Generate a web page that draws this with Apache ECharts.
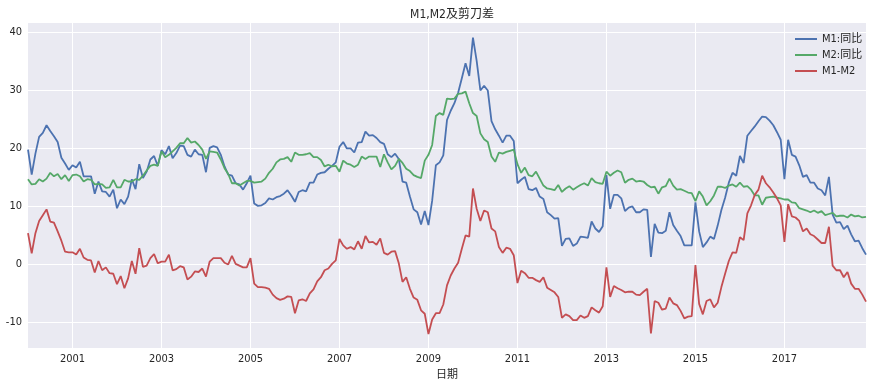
<!DOCTYPE html>
<html>
<head>
<meta charset="utf-8">
<script src="https://cdn.jsdelivr.net/npm/echarts@6/dist/echarts.min.js"></script>
<style>
html,body{margin:0;padding:0;background:#fff;}
#chart{width:872px;height:389px;}
</style>
</head>
<body>
<div id="chart"></div>
<script>
// Monthly data, 2000-01 .. 2018-11
const startYear = 2000;
const monthCount = 227;
const tickYears = [2001, 2003, 2005, 2007, 2009, 2011, 2013, 2015, 2017];

const m1 = [
  19.7, 15.4, 19.0, 21.9, 22.6, 23.9, 22.9, 22.0, 21.0, 18.3, 17.3, 16.2,
  17.0, 16.6, 17.6, 15.1, 15.1, 15.1, 12.1, 14.2, 12.5, 12.4, 11.6, 12.8,
  9.6, 11.1, 10.3, 11.6, 14.6, 12.9, 17.2, 14.8, 15.9, 18.0, 18.6, 16.9,
  19.6, 18.9, 20.3, 18.2, 19.1, 20.4, 20.3, 18.8, 18.5, 19.7, 18.9, 18.8,
  15.8, 20.0, 20.3, 20.1, 18.8, 16.8, 15.4, 15.2, 13.9, 13.7, 12.8, 13.9,
  15.2, 10.4, 10.0, 10.1, 10.5, 11.3, 11.1, 11.5, 11.7, 12.1, 12.7, 11.8,
  10.7, 12.4, 12.7, 12.5, 14.0, 14.0, 15.4, 15.7, 15.8, 16.4, 16.9, 17.5,
  20.2, 21.0, 19.9, 19.9, 19.2, 20.9, 21.0, 22.8, 22.1, 22.2, 21.7, 21.0,
  20.7, 18.9, 18.4, 19.0, 18.1, 14.2, 14.0, 11.6, 9.4, 8.9, 6.8, 9.1,
  6.7, 10.9, 17.0, 17.5, 18.7, 24.8, 26.4, 27.7, 29.5, 32.0, 34.6, 32.4,
  39.0, 35.0, 29.9, 30.7, 29.9, 24.6, 23.2, 22.1, 20.9, 22.1, 22.1, 21.2,
  13.9, 14.5, 15.0, 12.9, 12.7, 13.1, 11.6, 11.2, 8.9, 8.4, 7.8, 7.9,
  3.1, 4.3, 4.4, 3.1, 3.5, 4.7, 4.6, 4.5, 7.3, 6.1, 5.5, 6.5,
  15.3, 9.5, 11.9, 11.9, 11.3, 9.1, 9.7, 9.9, 8.9, 8.9, 9.4, 9.3,
  1.2, 6.9, 5.4, 5.3, 5.7, 8.9, 6.7, 5.7, 4.8, 3.2, 3.2, 3.2,
  10.6, 5.6, 2.9, 3.7, 4.7, 4.3, 6.6, 9.3, 11.4, 14.0, 15.7, 15.2,
  18.6, 17.4, 22.1, 22.9, 23.7, 24.6, 25.4, 25.3, 24.7, 23.9, 22.7, 21.4,
  14.6, 21.4, 18.8, 18.5, 17.0, 15.0, 15.3, 14.0, 14.0, 13.0, 12.7, 11.8,
  15.0, 8.5, 7.1, 7.2, 6.0, 6.6, 5.1, 3.9, 4.0, 2.7, 1.6
];

const m2 = [
  14.6, 13.7, 13.8, 14.6, 14.2, 14.7, 15.7, 15.1, 15.5, 14.6, 15.3, 14.3,
  15.3, 15.4, 15.1, 14.2, 14.6, 14.5, 13.7, 13.8, 13.7, 13.1, 13.2, 14.5,
  13.2, 13.2, 14.5, 14.2, 14.2, 14.6, 14.5, 15.2, 16.1, 16.9, 17.1, 16.9,
  19.4, 18.4, 18.8, 19.4, 20.0, 20.8, 20.8, 21.7, 20.9, 21.1, 20.5, 19.7,
  18.1, 19.4, 19.3, 19.2, 18.0, 16.5, 15.5, 13.9, 13.9, 13.5, 13.9, 14.3,
  14.3, 14.0, 14.1, 14.2, 14.7, 15.7, 16.4, 17.5, 18.0, 18.1, 18.4, 17.6,
  19.2, 18.8, 18.8, 18.9, 19.1, 18.4, 18.4, 17.9, 16.8, 17.1, 16.8, 16.9,
  15.9, 17.8, 17.3, 17.1, 16.7, 17.1, 18.5, 18.1, 18.5, 18.5, 18.5, 16.7,
  18.9, 17.5, 16.3, 16.9, 18.1, 17.4, 16.4, 16.0, 15.3, 15.0, 14.8, 17.8,
  18.8, 20.5, 25.5, 26.0, 25.7, 28.5, 28.4, 28.5, 29.3, 29.4, 29.7, 27.7,
  26.0, 25.5, 22.5, 21.5, 21.0, 18.5, 17.6, 19.2, 19.0, 19.3, 19.5, 19.7,
  17.2, 15.7, 16.6, 15.3, 15.1, 15.9, 14.7, 13.5, 13.0, 12.9, 12.7, 13.6,
  12.4, 13.0, 13.4, 12.8, 13.2, 13.6, 13.9, 13.5, 14.8, 14.1, 13.9, 13.8,
  15.9, 15.2, 15.7, 16.1, 15.8, 14.0, 14.5, 14.7, 14.2, 14.3, 14.2, 13.6,
  13.2, 13.3, 12.1, 13.2, 13.4, 14.7, 13.5, 12.8, 12.9, 12.6, 12.3, 12.2,
  10.8, 12.5, 11.6, 10.1, 10.8, 11.8, 13.3, 13.3, 13.1, 13.5, 13.7, 13.3,
  14.0, 13.3, 13.4, 12.8, 11.8, 11.8, 10.2, 11.4, 11.5, 11.6, 11.4, 11.3,
  11.1, 11.1, 10.6, 10.5, 9.6, 9.4, 9.2, 8.9, 9.2, 8.8, 9.1, 8.4,
  8.6, 8.8, 8.2, 8.3, 8.3, 8.0, 8.5, 8.2, 8.3, 8.0, 8.1
];

const gap = [
  5.3, 1.8, 5.3, 7.4, 8.4, 9.4, 7.3, 7.1, 5.6, 4.0, 2.1, 2.0,
  2.0, 1.6, 2.6, 1.1, 0.7, 0.6, -1.5, 0.5, -1.1, -0.6, -1.6, -1.7,
  -3.5, -2.1, -4.2, -2.5, 0.5, -1.7, 2.7, -0.5, -0.3, 1.0, 1.7, 0.1,
  0.4, 0.4, 1.6, -1.1, -0.9, -0.4, -0.6, -2.7, -2.2, -1.3, -1.4, -0.8,
  -2.2, 0.4, 1.0, 1.0, 1.0, 0.2, -0.1, 1.4, 0.0, -0.3, -0.6, -0.6,
  1.0, -3.4, -4.0, -4.0, -4.1, -4.3, -5.3, -5.9, -6.2, -6.0, -5.6, -5.7,
  -8.5, -6.3, -6.1, -6.4, -5.1, -4.4, -3.0, -2.3, -1.1, -0.8, 0.0, 0.6,
  4.3, 3.2, 2.6, 2.9, 2.5, 3.9, 2.6, 4.8, 3.7, 3.8, 3.3, 4.4,
  1.9, 1.6, 2.1, 2.2, 0.1, -3.1, -2.3, -4.3, -5.8, -6.2, -8.0, -8.6,
  -12.1, -9.6, -8.5, -8.5, -7.0, -3.7, -2.0, -0.8, 0.2, 2.6, 4.9, 4.7,
  13.0, 9.5, 7.4, 9.2, 8.9, 6.1, 5.6, 2.9, 1.9, 2.8, 2.6, 1.5,
  -3.3, -1.2, -1.6, -2.4, -2.4, -2.8, -3.1, -2.3, -4.1, -4.5, -4.9, -5.7,
  -9.3, -8.7, -9.0, -9.7, -9.7, -8.9, -9.3, -9.0, -7.5, -8.0, -8.4, -7.3,
  -0.6, -5.7, -3.8, -4.2, -4.5, -4.9, -4.8, -4.8, -5.3, -5.4, -4.8, -4.3,
  -12.0, -6.4, -6.7, -7.9, -7.7, -5.8, -6.8, -7.1, -8.1, -9.4, -9.1, -9.0,
  -0.2, -6.9, -8.7, -6.4, -6.1, -7.5, -6.7, -4.0, -1.7, 0.5, 2.0, 1.9,
  4.6, 4.1, 8.7, 10.1, 11.9, 12.8, 15.2, 13.9, 13.2, 12.3, 11.3, 10.1,
  3.8, 10.3, 8.2, 8.0, 7.4, 5.6, 6.1, 5.1, 4.8, 4.2, 3.6, 3.6,
  6.4, -0.3, -1.1, -1.1, -2.3, -1.4, -3.4, -4.3, -4.3, -5.3, -6.5
];

const seriesNames = ['M1:同比', 'M2:同比', 'M1-M2'];
const titleText = 'M1,M2及剪刀差';
const xName = '日期';

const months = [];
for (let i = 0; i < monthCount; i++) {
  const y = startYear + Math.floor(i / 12);
  const m = (i % 12) + 1;
  months.push(y + '-' + (m < 10 ? '0' + m : m));
}
function isTick(idx, val) {
  return val.slice(5) === '01' && tickYears.indexOf(+val.slice(0, 4)) >= 0;
}

const FONT = '"Liberation Sans Narrow", "DejaVu Sans Condensed", "Noto Sans CJK SC", sans-serif';
const TXT = '#262626';

const chart = echarts.init(document.getElementById('chart'), null, {renderer: 'canvas'});
chart.setOption({
  animation: false,
  backgroundColor: '#ffffff',
  title: {
    text: titleText,
    left: 447, top: 4, textAlign: 'center',
    textStyle: {fontFamily: FONT, fontSize: 12, fontWeight: 'normal', color: TXT}
  },
  legend: {
    orient: 'vertical',
    left: 790, top: 27,
    icon: 'rect',
    itemWidth: 22, itemHeight: 2, itemGap: 2,
    textStyle: {fontFamily: FONT, fontSize: 11, color: TXT, lineHeight: 14, padding: [0, 0, 0, 0]},
    data: seriesNames
  },
  grid: {
    left: 28, right: 6, top: 22, bottom: 41,
    show: true, backgroundColor: '#EAEAF2', borderWidth: 0
  },
  xAxis: {
    type: 'category',
    data: months,
    boundaryGap: false,
    name: xName,
    nameLocation: 'middle',
    nameGap: 22,
    nameTextStyle: {fontFamily: FONT, fontSize: 11, color: TXT},
    axisLine: {show: false},
    axisTick: {show: false},
    axisLabel: {
      interval: isTick,
      formatter: v => v.slice(0, 4),
      fontFamily: FONT, fontSize: 11, color: TXT, margin: 6
    },
    splitLine: {show: true, interval: isTick, lineStyle: {color: '#ffffff', width: 1}}
  },
  yAxis: {
    type: 'value',
    min: -14.5, max: 41.7,
    axisLine: {show: false},
    axisTick: {show: false},
    axisLabel: {
      showMinLabel: false, showMaxLabel: false,
      fontFamily: FONT, fontSize: 11, color: TXT, margin: 6
    },
    splitLine: {show: true, lineStyle: {color: '#ffffff', width: 1}}
  },
  series: [
    {name: seriesNames[0], type: 'line', data: m1, symbol: 'none',
     lineStyle: {color: '#4C72B0', width: 1.8}, itemStyle: {color: '#4C72B0'}},
    {name: seriesNames[1], type: 'line', data: m2, symbol: 'none',
     lineStyle: {color: '#55A868', width: 1.8}, itemStyle: {color: '#55A868'}},
    {name: seriesNames[2], type: 'line', data: gap, symbol: 'none',
     lineStyle: {color: '#C44E52', width: 1.8}, itemStyle: {color: '#C44E52'}}
  ]
});
</script>
</body>
</html>
